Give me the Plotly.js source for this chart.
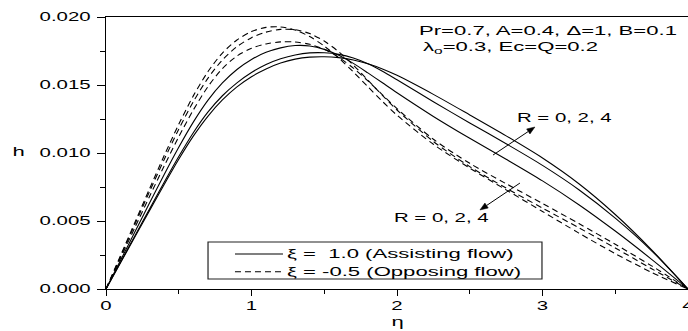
<!DOCTYPE html>
<html>
<head>
<meta charset="utf-8">
<script src="https://cdn.plot.ly/plotly-3.0.1.min.js"></script>
<style>
html,body{margin:0;padding:0;background:#fff;}
#chart{width:688px;height:331px;}
</style>
</head>
<body>
<div id="chart"></div>
<script>
// eta grid (x) shared by all curves
const eta = [0, 0.1, 0.2, 0.3, 0.4, 0.5, 0.6, 0.7, 0.8, 0.9, 1.0, 1.1, 1.2, 1.3, 1.4, 1.5, 1.6, 1.7, 1.8, 1.9, 2.0, 2.25, 2.5, 2.75, 3.0, 3.25, 3.5, 3.75, 4.0];

// xi = 1.0 (Assisting flow), solid
const assistR0 = [0, 0.00211, 0.00423, 0.00634, 0.00842, 0.01042, 0.01227, 0.01387, 0.01515, 0.01614, 0.01688, 0.01740, 0.01773, 0.01790, 0.01787, 0.01762, 0.01718, 0.01659, 0.01589, 0.01516, 0.01443, 0.01269, 0.01108, 0.00954, 0.00795, 0.00620, 0.00426, 0.00218, 0];
const assistR2 = [0, 0.00197, 0.00394, 0.00590, 0.00785, 0.00974, 0.01149, 0.01300, 0.01421, 0.01516, 0.01592, 0.01651, 0.01693, 0.01721, 0.01736, 0.01737, 0.01725, 0.01698, 0.01656, 0.01601, 0.01538, 0.01377, 0.01221, 0.01068, 0.00909, 0.00730, 0.00521, 0.00281, 0];
const assistR4 = [0, 0.00193, 0.00386, 0.00578, 0.00769, 0.00954, 0.01124, 0.01270, 0.01390, 0.01486, 0.01561, 0.01618, 0.01661, 0.01690, 0.01705, 0.01708, 0.01701, 0.01684, 0.01656, 0.01618, 0.01571, 0.01431, 0.01280, 0.01126, 0.00963, 0.00774, 0.00548, 0.00288, 0];

// xi = -0.5 (Opposing flow), dashed
const opposeR0 = [0, 0.00227, 0.00455, 0.00682, 0.00905, 0.01119, 0.01316, 0.01487, 0.01621, 0.01713, 0.01770, 0.01802, 0.01817, 0.01816, 0.01799, 0.01762, 0.01703, 0.01624, 0.01530, 0.01428, 0.01326, 0.01101, 0.00924, 0.00774, 0.00629, 0.00481, 0.00329, 0.00170, 0];
const opposeR2 = [0, 0.00239, 0.00479, 0.00718, 0.00952, 0.01175, 0.01377, 0.01549, 0.01684, 0.01782, 0.01848, 0.01889, 0.01909, 0.01907, 0.01878, 0.01823, 0.01744, 0.01646, 0.01536, 0.01423, 0.01316, 0.01085, 0.00900, 0.00742, 0.00595, 0.00450, 0.00302, 0.00149, 0];
const opposeR4 = [0, 0.00246, 0.00493, 0.00739, 0.00981, 0.01211, 0.01420, 0.01597, 0.01735, 0.01831, 0.01893, 0.01924, 0.01927, 0.01904, 0.01856, 0.01786, 0.01698, 0.01596, 0.01487, 0.01379, 0.01278, 0.01064, 0.00889, 0.00729, 0.00570, 0.00411, 0.00260, 0.00122, 0];

const yTicks = [0, 0.005, 0.010, 0.015, 0.020];
const xTicks = [0, 1, 2, 3, 4];

const FONT = 'Liberation Sans, Arial, Helvetica, sans-serif';
const STRETCH = 1.7;
const DASH = '6px,4px';

function mk(y, dash, name){
  return {x: eta, y: y, type:'scatter', mode:'lines', name: name, showlegend:false,
    line:{color:'#000', width:1.1, dash: dash, shape:'spline', smoothing:0.8}, hoverinfo:'skip'};
}

const data = [
  mk(assistR0, 'solid', 'ξ = 1.0, R = 0'),
  mk(assistR2, 'solid', 'ξ = 1.0, R = 2'),
  mk(assistR4, 'solid', 'ξ = 1.0, R = 4'),
  mk(opposeR0, DASH, 'ξ = -0.5, R = 0'),
  mk(opposeR2, DASH, 'ξ = -0.5, R = 2'),
  mk(opposeR4, DASH, 'ξ = -0.5, R = 4')
];

const txt = (text, x, y, size, extra) => Object.assign({
  text: text, xref:'paper', yref:'paper', x:x, y:y, xanchor:'left', yanchor:'middle',
  showarrow:false, font:{family:FONT, size:size, color:'#000'}, align:'left'
}, extra || {});

const annotations = [
  txt('Pr=0.7, A=0.4, Δ=1, B=0.1', 0.5344, 0.952, 13),
  txt('λ<sub>o</sub>=0.3, Ec=Q=0.2', 0.5412, 0.888, 13),
  txt('R = 0, 2, 4', 0.7027, 0.6305, 12),
  txt('R = 0, 2, 4', 0.4914, 0.261, 12),
  txt('ξ =\u00a0\u00a01.0 (Assisting flow)', 0.3075, 0.1287, 13),
  txt('ξ = -0.5 (Opposing flow)', 0.3075, 0.0636, 13),
  txt('h', -0.1512, 0.504, 13, {xanchor:'center', align:'center'}),
  txt('η', 0.5, -0.121, 13, {xanchor:'center', align:'center'})
];

// plot-area pixel scales, used only to shape the arrowheads
const PX_X = 582 / 4, PX_Y = 272 / 0.020;
function arrow(tail, head){
  const dx = (head[0]-tail[0])*PX_X, dy = (head[1]-tail[1])*PX_Y;
  const L = Math.hypot(dx, dy), ux = dx/L, uy = dy/L;
  const len = 8, hw = 3;
  const bx = head[0] - ux*len/PX_X, by = head[1] - uy*len/PX_Y;
  const p1 = [bx + (-uy)*hw/PX_X, by + ux*hw/PX_Y];
  const p2 = [bx - (-uy)*hw/PX_X, by - ux*hw/PX_Y];
  return [
    {type:'line', xref:'x', yref:'y', x0:tail[0], y0:tail[1], x1:bx, y1:by, line:{color:'#000', width:1}},
    {type:'path', xref:'x', yref:'y',
     path:'M'+head[0]+','+head[1]+' L'+p1[0]+','+p1[1]+' L'+p2[0]+','+p2[1]+' Z',
     fillcolor:'#000', line:{color:'#000', width:0.5}}
  ];
}

const shapes = [
  {type:'rect', xref:'paper', yref:'paper', x0:0.1753, x1:0.7491, y0:0.0368, y1:0.1728,
   line:{color:'#222', width:1.2}, fillcolor:'#fff', layer:'above'},
  {type:'line', xref:'paper', yref:'paper', x0:0.2216, x1:0.3041, y0:0.1287, y1:0.1287,
   line:{color:'#000', width:1.1}},
  {type:'line', xref:'paper', yref:'paper', x0:0.2216, x1:0.3041, y0:0.0636, y1:0.0636,
   line:{color:'#000', width:1.1, dash:DASH}}
].concat(arrow([2.660, 0.00985], [2.948, 0.01191]))
 .concat(arrow([2.845, 0.00779], [2.570, 0.00581]));

const layout = {
  width:688, height:331,
  margin:{l:106, r:0, t:17, b:42, pad:0},
  paper_bgcolor:'#fff', plot_bgcolor:'#fff',
  font:{family:FONT, size:12, color:'#000'},
  showlegend:false,
  xaxis:{range:[0,4], tickvals:xTicks, ticktext:xTicks.map(String),
    ticks:'outside', ticklen:6, tickwidth:1, tickcolor:'#000', ticklabeloverflow:'allow',
    minor:{ticks:'outside', ticklen:4, dtick:0.5, tickcolor:'#000', tickwidth:1},
    showline:true, linecolor:'#000', linewidth:1, mirror:true,
    showgrid:false, zeroline:false, tickfont:{family:FONT, size:12, color:'#000'},
    fixedrange:true},
  yaxis:{range:[0,0.020], tickvals:yTicks, ticktext:yTicks.map(v=>v.toFixed(3)),
    ticks:'outside', ticklen:8, tickwidth:1, tickcolor:'#000', ticklabelstandoff:4,
    minor:{ticks:'outside', ticklen:5, dtick:0.0025, tickcolor:'#000', tickwidth:1},
    showline:true, linecolor:'#000', linewidth:1, mirror:false,
    showgrid:false, zeroline:false, tickfont:{family:FONT, size:12, color:'#000'},
    fixedrange:true},
  annotations: annotations,
  shapes: shapes
};

function stretchText(gd, sx){
  gd.querySelectorAll('svg text').forEach(function(t){
    if (t.getAttribute('data-stretched')) return;
    if (!t.textContent.trim()) { t.remove(); return; }
    const ax = parseFloat(t.getAttribute('x')) || 0;
    const tr = t.getAttribute('transform') || '';
    t.setAttribute('transform', tr + ' translate(' + ax + ',0) scale(' + sx + ',1) translate(' + (-ax) + ',0)');
    t.setAttribute('data-stretched', '1');
  });
}

const gd = document.getElementById('chart');
Plotly.newPlot(gd, data, layout, {staticPlot:true, displayModeBar:false}).then(function(){
  stretchText(gd, STRETCH);
});
</script>
</body>
</html>
